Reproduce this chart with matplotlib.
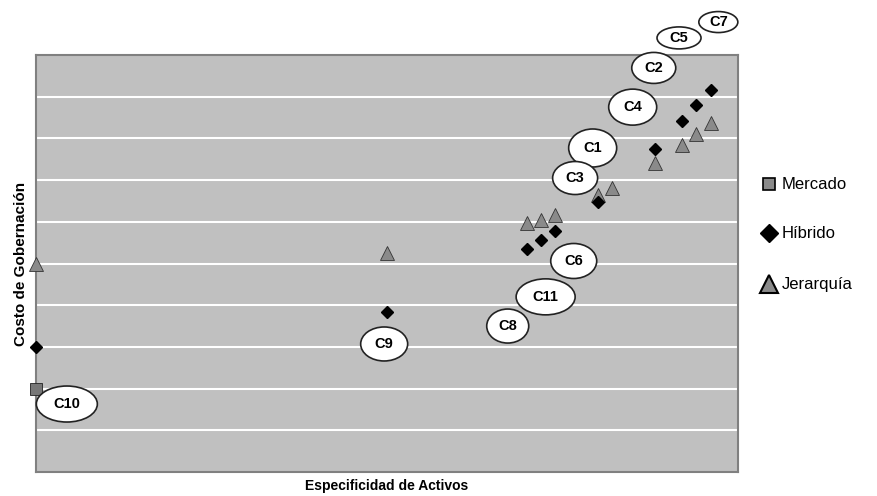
import matplotlib
matplotlib.use("Agg")
from matplotlib import pyplot as plt
from matplotlib.patches import Ellipse

plt.rcParams['font.family'] = ['Liberation Sans', 'DejaVu Sans']

# datos (escala 0-10 en ambos ejes)
mercado_x = [0.0]
mercado_y = [2.0]

hibrido_x = [0.0, 5.0, 7.0, 7.2, 7.4, 8.0, 8.82, 9.2, 9.4, 9.62]
hibrido_y = [3.0, 3.84, 5.35, 5.56, 5.78, 6.47, 7.75, 8.42, 8.80, 9.16]

jerarquia_x = [0.0, 5.0, 7.0, 7.2, 7.4, 8.0, 8.2, 8.82, 9.2, 9.4, 9.62]
jerarquia_y = [5.0, 5.25, 5.97, 6.04, 6.16, 6.64, 6.81, 7.41, 7.84, 8.10, 8.37]

etiquetas = ["C7", "C5", "C2", "C4", "C1", "C3", "C6", "C11", "C8", "C9", "C10"]
etiq_x = [9.72, 9.16, 8.80, 8.50, 7.93, 7.68, 7.66, 7.26, 6.72, 4.96, 0.44]
etiq_y = [10.79, 10.41, 9.69, 8.75, 7.77, 7.05, 5.06, 4.20, 3.50, 3.07, 1.63]

# tamaño de las elipses en pixeles
elip_w = [39, 44, 44, 48, 48, 45, 46, 59, 42, 47, 61]
elip_h = [21, 22, 31, 36, 38, 33, 35, 36, 34, 34, 36]

fig = plt.figure(figsize=(8.77, 4.96), dpi=100)
ax = fig.add_axes([0.041, 0.0484, 0.8005, 0.8407])
ax.set_facecolor('#c0c0c0')
ax.set_xlim(0, 10)
ax.set_ylim(0, 10)

for v in range(1, 10):
	ax.axhline(v, color='white', linewidth=1.5, zorder=1)

for s in ax.spines.values():
	s.set_color('#808080')
	s.set_linewidth(1.5)
ax.set_xticks([])
ax.set_yticks([])

ax.plot(jerarquia_x, jerarquia_y, '^', color='#8a8a8a', markeredgecolor='#333333',
	markeredgewidth=0.6, markersize=10, linestyle='none', clip_on=False, zorder=3)
ax.plot(hibrido_x, hibrido_y, 'D', color='black', markersize=6.5,
	linestyle='none', clip_on=False, zorder=4)
ax.plot(mercado_x, mercado_y, 's', color='#777777', markeredgecolor='#222222',
	markeredgewidth=0.6, markersize=8, linestyle='none', clip_on=False, zorder=3)

px_x = 702 / 10.0
px_y = 417 / 10.0
for i in range(len(etiquetas)):
	e = Ellipse((etiq_x[i], etiq_y[i]), elip_w[i] / px_x, elip_h[i] / px_y,
		facecolor='white', edgecolor='#222222', linewidth=1.2, clip_on=False, zorder=5)
	ax.add_patch(e)
	ax.text(etiq_x[i], etiq_y[i], etiquetas[i], ha='center', va='center',
		fontsize=10.5, fontweight='bold', zorder=6, clip_on=False)

ax.set_xlabel("Especificidad de Activos", fontsize=10, fontweight='bold', labelpad=5)
ax.set_ylabel("Costo de Gobernación", fontsize=11, fontweight='bold', labelpad=6)

# leyenda a la derecha
lx = 0.877
ly = [0.629, 0.530, 0.427]
nombres = ["Mercado", "Híbrido", "Jerarquía"]
fig.lines.append(plt.Line2D([lx], [ly[0]], marker='s', color='#8a8a8a', markeredgecolor='black',
	markeredgewidth=1.2, markersize=9, transform=fig.transFigure))
fig.lines.append(plt.Line2D([lx], [ly[1]], marker='D', color='black',
	markersize=9, transform=fig.transFigure))
fig.lines.append(plt.Line2D([lx], [ly[2]], marker='^', color='#8a8a8a', markeredgecolor='black',
	markeredgewidth=1.5, markersize=13, transform=fig.transFigure))
for k in range(3):
	fig.text(0.891, ly[k], nombres[k], fontsize=12, va='center', ha='left')

fig.savefig("out.png", dpi=100)
